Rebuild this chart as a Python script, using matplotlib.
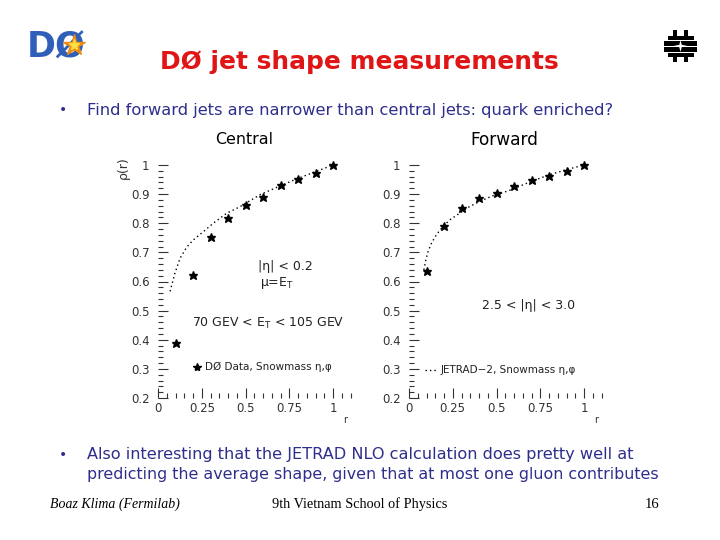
import matplotlib
matplotlib.use("Agg")
import matplotlib.pyplot as plt
from matplotlib.patches import Rectangle, Polygon
import numpy as np

# ---------------- data ----------------
r_data = [0.1, 0.2, 0.3, 0.4, 0.5, 0.6, 0.7, 0.8, 0.9, 1.0]
central_data = [0.39, 0.623, 0.752, 0.817, 0.862, 0.891, 0.931, 0.951, 0.971, 1.0]
forward_data = [0.637, 0.792, 0.851, 0.888, 0.905, 0.928, 0.949, 0.963, 0.981, 1.0]

central_jetrad_r = [0.069, 0.097, 0.126, 0.164, 0.202, 0.259, 0.316, 0.392, 0.469,
                    0.583, 0.7, 0.8, 0.9, 1.0]
central_jetrad = [0.566, 0.629, 0.680, 0.718, 0.743, 0.771, 0.800, 0.834, 0.857,
                  0.898, 0.929, 0.954, 0.977, 1.0]
forward_jetrad_r = [0.085, 0.096, 0.109, 0.128, 0.156, 0.194, 0.232, 0.288, 0.345,
                    0.401, 0.476, 0.571, 0.7, 0.8, 0.9, 1.0]
forward_jetrad = [0.640, 0.674, 0.703, 0.731, 0.760, 0.789, 0.811, 0.834, 0.857,
                  0.874, 0.894, 0.912, 0.944, 0.966, 0.984, 1.0]

y_ticks = [0.2, 0.3, 0.4, 0.5, 0.6, 0.7, 0.8, 0.9, 1.0]
y_ticklabels = ["0.2", "0.3", "0.4", "0.5", "0.6", "0.7", "0.8", "0.9", "1"]
x_ticks = [0, 0.25, 0.5, 0.75, 1.0]
x_ticklabels = ["0", "0.25", "0.5", "0.75", "1"]

title = "DØ jet shape measurements"
bullet1 = "Find forward jets are narrower than central jets: quark enriched?"
bullet2a = "Also interesting that the JETRAD NLO calculation does pretty well at"
bullet2b = "predicting the average shape, given that at most one gluon contributes"
footer_left = "Boaz Klima (Fermilab)"
footer_mid = "9th Vietnam School of Physics"
footer_right = "16"

W, H = 720, 540
fig = plt.figure(figsize=(W / 100, H / 100), dpi=100)
fig.patch.set_facecolor("white")

def fx(px):
    return px / W

def fy(py):
    return 1 - py / H

# background overlay in pixel coordinates (for logos)
bg = fig.add_axes([0, 0, 1, 1], zorder=0)
bg.set_xlim(0, W)
bg.set_ylim(H, 0)
bg.axis("off")

# DØ logo
bg.text(56, 48, "DØ", fontsize=25, fontweight="heavy", color="#2f5fb8",
        ha="center", va="center", family="DejaVu Sans")
bg.plot([74], [45], marker="*", markersize=16, color="#f08a10", zorder=3)
bg.plot([74], [45], marker="*", markersize=8, color="#ffe040", zorder=4)

# Fermilab logo (approximation with blocks)
blk = "black"
for (x0, y0, w, h) in [(672.5, 29.5, 4.5, 6), (683.5, 29.5, 4.5, 6),
                       (668, 35.5, 25.5, 4), (664, 40.5, 33, 5),
                       (664, 47, 33, 5), (668, 52.5, 25.5, 4),
                       (672.5, 56.5, 4.5, 5.5), (683.5, 56.5, 4.5, 5.5)]:
    bg.add_patch(Rectangle((x0, y0), w, h, color=blk, lw=0))
cx, cy = 680.5, 46
bg.add_patch(Polygon([(cx - 7, cy), (cx - 1.2, cy - 1.2), (cx, cy - 6), (cx + 1.2, cy - 1.2),
                      (cx + 7, cy), (cx + 1.2, cy + 1.2), (cx, cy + 6), (cx - 1.2, cy + 1.2)],
                     closed=True, color="white", lw=0))

# ---------------- slide text ----------------
def fit_text(x, y, s, width, ha="left", **kw):
    t = fig.text(fx(x), fy(y), s, ha=ha, va="center", **kw)
    fig.canvas.draw()
    for _ in range(3):
        bb = t.get_window_extent()
        t.set_fontsize(t.get_fontsize() * width / bb.width)
        fig.canvas.draw()
    return t

navy = "#2e2e8c"
fit_text(359, 62, title, 398, ha="center", color="#e01515", fontweight="bold",
         family="DejaVu Sans", fontsize=17)
fig.text(fx(63), fy(110), "•", color=navy, fontsize=10, ha="center", va="center")
fit_text(87, 110, bullet1, 524, color=navy, family="DejaVu Sans", fontsize=10)
fit_text(244, 140, "Central", 58, ha="center", color="black", family="DejaVu Sans", fontsize=11)
fit_text(504, 140, "Forward", 68, ha="center", color="black", family="DejaVu Sans", fontsize=11)

fig.text(fx(63), fy(455), "•", color=navy, fontsize=10, ha="center", va="center")
fit_text(87, 455, bullet2a, 547, color=navy, family="DejaVu Sans", fontsize=10)
fit_text(87, 474, bullet2b, 571, color=navy, family="DejaVu Sans", fontsize=10)

fit_text(50, 504, footer_left, 130, color="black", family="Liberation Serif",
         style="italic", fontsize=10)
fit_text(360, 504, footer_mid, 175, ha="center", color="black",
         family="Liberation Serif", fontsize=10)
fig.text(fx(659), fy(504), footer_right, ha="right", va="center",
         family="Liberation Serif", fontsize=10.5, color="black")

# ---------------- plots ----------------
SX = 175.0          # px per unit r
SY = 291.25         # px per unit rho
XMAX, YMIN, YMAX = 1.1, 0.2, 1.02
tick_col = "#333333"

def make_axes(x0_px):
    y_bottom_px = 398
    left = fx(x0_px)
    bottom = (H - y_bottom_px) / H
    width = XMAX * SX / W
    height = (YMAX - YMIN) * SY / H
    ax = fig.add_axes([left, bottom, width, height], zorder=2)
    ax.set_facecolor("none")
    ax.set_xlim(0, XMAX)
    ax.set_ylim(YMIN, YMAX)
    for sp in ax.spines.values():
        sp.set_visible(False)
    ax.set_xticks(x_ticks)
    ax.set_xticklabels(x_ticklabels)
    ax.set_yticks(y_ticks)
    ax.set_yticklabels(y_ticklabels)
    ax.set_xticks(np.arange(0, 1.1001, 0.05), minor=True)
    ax.set_yticks(np.arange(0.2, 1.0001, 0.02), minor=True)
    ax.tick_params(axis="both", which="major", direction="in", length=7.5,
                   width=0.8, color=tick_col, labelcolor=tick_col, labelsize=8.5)
    ax.tick_params(axis="both", which="minor", direction="in", length=3.5,
                   width=0.8, color=tick_col)
    ax.tick_params(axis="y", which="major", pad=6)
    ax.tick_params(axis="x", which="major", pad=3)
    return ax

txt_kw = dict(fontsize=9, color="#222222", va="center", ha="left")

# Central
axc = make_axes(158)
axc.plot(central_jetrad_r, central_jetrad, linestyle=(0, (1, 2.2)), color="black", lw=1.0)
axc.plot(r_data, central_data, linestyle="none", marker="*", markersize=6.3, color="black")
axc.text(0.571, 0.650, "|η| < 0.2", **txt_kw)
axc.text(0.583, 0.595, "μ=E$_{\\rm T}$", **txt_kw)
axc.text(0.194, 0.457, "70 GEV < E$_{\\rm T}$ < 105 GEV", **txt_kw)
axc.plot([0.223], [0.306], marker="*", markersize=6, color="black")
axc.text(0.269, 0.306, "DØ Data, Snowmass η,φ", fontsize=7.5, color="#222222",
         va="center", ha="left")
axc.text(-0.2, 0.99, "ρ(r)", rotation=90, fontsize=9, color="#333333",
         ha="center", va="center")
axc.text(1.07, 0.125, "r", fontsize=7, color="#333333", ha="center", va="center",
         clip_on=False)

# Forward
axf = make_axes(409)
axf.plot(forward_jetrad_r, forward_jetrad, linestyle=(0, (1, 2.2)), color="black", lw=1.0)
axf.plot(r_data, forward_data, linestyle="none", marker="*", markersize=6.3, color="black")
axf.text(0.415, 0.519, "2.5 < |η| < 3.0", **txt_kw)
axf.plot([0.09, 0.165], [0.296, 0.296], linestyle=(0, (1, 2.2)), color="black", lw=1.0)
axf.text(0.18, 0.296, "JETRAD−2, Snowmass η,φ", fontsize=7.5, color="#222222",
         va="center", ha="left")
axf.text(1.07, 0.125, "r", fontsize=7, color="#333333", ha="center", va="center",
         clip_on=False)

fig.savefig("out.png", dpi=100, facecolor="white")
